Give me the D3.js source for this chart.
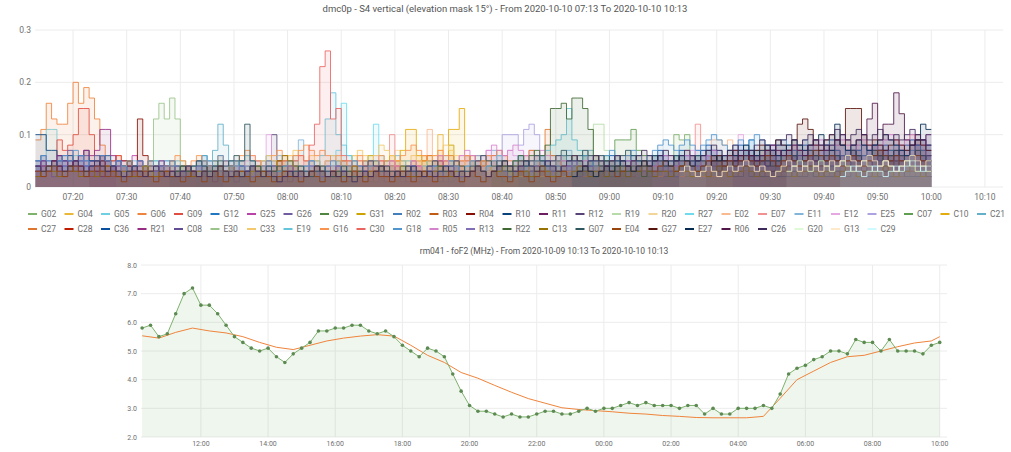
<!DOCTYPE html>
<html>
<head>
<meta charset="utf-8">
<script src="https://cdn.jsdelivr.net/npm/d3@7"></script>
<style>
  body { margin: 0; background: #fff; font-family: Roboto, "Helvetica Neue", Arial, sans-serif; }
  svg text { fill: #6f6f6f; }
</style>
</head>
<body>
<div id="chart"></div>
<script>
// ---------- S4 panel: one value per minute, in units of 0.01 ----------
// each satellite has a first minute (after 07:13) and its values
const satNames = ["G02","G04","G05","G06","G09","G12","G25","G26","G29","G31","R02","R03","R04","R10","R11","R12","R19","R20","R27","E02","E07","E11","E12","E25","C07","C10","C21",
                  "C27","C28","C36","R21","C08","E30","C33","E19","G16","C30","G18","R05","R13","R22","C13","G07","E04","G27","E27","R06","C26","G20","G13","C29"];
const satStart = [100,60,0,0,0,0,10,0,30,60,0,0,10,0,0,20,90,40,50,70,60,30,35,80,100,55,20,
                  60,0,90,0,0,15,40,45,20,45,0,60,0,85,0,25,0,125,100,130,0,140,120,150];

const sG02 = [3,4,3,2,3,4,3,5,4,3, 2,3,4,3,2,3,4,3,5,10, 9,10,6,4,3,4,3,2,3,4, 3,2,3,4,3,3,2,3,4,3, 2,3,3,4,3,2,3,4,3,2, 3,3,4,3,2,3,3,2,4,3, 2,3,3,2,3,4,3];
const sG04 = [2,3,4,3,5,4,3,4,5,4, 3,4,5,6,4,10,5,4,3,4, 3,5,4,3,4,3,2,3,4,3, 5,4,3,2,3,4,3,2,3,4, 3,2,3,4,3,2,3,3,2,3];
const sG05 = [5,6,11,11,6,5,4,6,5,4, 3,5,4,6,5,4,3,4,5,3, 4,3,5,4,3,4,3,2,4,3, 5,4,3,4,3,3,4,3,2,3, 4,3,3,2,4,3,2,3,3,4, 3,2,3,3,2,3,4,3,2,3];
const sG06 = [9,11,16,13,12,12,16,20,16,19, 17,13,8,6,5,6,4,5,4,3, 4,5,3,4,3,4,3,2,3,4, 3,3,2,3,4,3,2,3,3,2, 3,4,3,2,3];
const sG09 = [4,5,4,5,9,7,8,10,15,15, 10,6,5,4,5,6,4,3,4,5, 3,4,3,3,4,2,3,3,4,3, 2,3,3,2,3];
const sG12 = [4,5,3,4,6,5,4,3,5,4, 3,4,5,6,4,3,4,5,3,4, 3,2,4,3,5,4,3,2,3,4, 5,6,4,3,4,3,2,3,4,3, 2,3,4,3,2,3,3,4,3,2,
              3,4,3,2,3,4,5,4,3,2, 3,3,4,3,2,3,4,3,3,2, 3,4,3,2,3,3,4,5,4,3, 2,3,4,3,3,2,3,4,3,2, 3,3,4,3,2,3,4,3,2,3,
              4,3,3,2,3,4,5,4,3,3, 2,3,4,3,5,6,5,4,3,4, 5,4,6,5,4,6,7,5,6,5, 6,5,7,9,6,5,4,5,6,4, 5,4,3,5,4,3,4,5,4,3,
              4,3,5,4,3,4,3,5,4,3, 4,3,4,5,4,3,4];
const sG25 = [5,4,6,5,4,3,5,4,6,5, 4,3,4,5,3,4,3,2,4,3, 5,4,3,4,3,2,3,4,3,2, 3,4,5,4,3,2,3,4,3,3, 2,3,4,3,2,3,4,3,2,3,
              4,5,4,3,2,3,4,3,3,2, 3,4,3,2,3,5,4,3,4,5, 6,5,4,3,4,5,4,3,2,3, 4,3,3,2,3,4,3,2,3,4, 3,2,3,3,4,3,2,3,4,3,
              3,2,4,3,2,3,3,2,3,2];
const sG26 = [5,4,3,4,5,4,3,5,4,6, 5,4,3,5,4,3,2,4,3,2, 3,4,3,2,3,2,4,3,2,3, 2,3,4,3,2,3,2,1,2,3, 4,3,2,2,3,2,1,2,3,2,
              2,3,2,1,2,3,2,2,1,2, 3,2,1,2,3,4,3,2,2,3, 2,1,2,3,2,2,1,2,3,2, 3,4,5,4,3,5,4,3,2,3, 4,3,2,3,2,3,4,3,2,3,
              2,3,4,3,2,2,3,4,3,2, 3,4,3,2,4,5,4,3,4,3, 4,5,4,3,4,5,6,5,4,3, 5,4,5,7,6,5,4,5,4,3, 4,5,4,3,4,5,4,5,6,5,
              4,3,5,4,3,4,5,4,3,4, 5,4,3,4,5,6,5];
const sG29 = [3,4,3,5,4,3,4,5,4,3, 4,3,2,3,4,3,5,4,3,2, 3,4,3,2,3,4,3,3,4,3, 2,3,4,5,4,3,4,3,2,3, 4,3,2,3,4,5,4,3,4,3,
              4,5,6,5,4,5,4,3,4,3, 4,5,4,3,2,3,4,3,3,2, 3,4,3,2,3,4,3,2,3,4, 5,4,3,3,4,3,2,3,4,3, 3,2,3,4,3,2,3,3,4,3];
const sG31 = [2,3,4,3,2,3,4,5,4,3, 4,5,6,5,4,3,4,8,5,4, 3,4,3,2,3,4,3,2,3,4, 3,2,3,4,3,3,2,3,4,3, 2,3,3,4,3,2,3,2,3,2];
const sR02 = [4,3,4,5,3,4,5,4,3,4, 5,6,4,3,4,5,4,3,2,3, 4,3,2,3,4,3,2,3,2,3, 4,3,2,3,2,3,4,5,4,3, 2,3,2,3,4,3,2,3,2,1,
              2,3,2,3,2,1,2,3,2,3, 2,1,2,3,2,2,3,2,1,2, 3,2,1,2,3,2,2,1,2,3, 2,3,2,1,2,3,2,1,2,3, 2,3,2,1,2,3,2,3,4,3,
              2,3,4,3,2,3,2,3,4,3, 2,3,4,5,4,3,4,5,4,5, 6,4,5,7,5,4,5,7,6,5, 4,5,6,5,4,5,6,7,5,4, 5,6,5,4,5,7,6,5,4,6,
              5,4,5,6,5,4,5,6,7,5, 4,5,6,5,4,5,6];
const sR03 = [3,2,3,4,3,2,3,3,4,3, 2,3,4,3,2,3,3,2,3,4, 3,2,3,3,4,3,2,3,4,3, 3,2,3,4,3,2,3,3,2,3, 4,3,2,3,3,4,3,2,3,3,
              2,3,4,3,2,3,3,2,3,4, 3,3,2,3,4,3,2,3,3,2, 3,4,3,2,3,3,4,3,2,3, 3,2,3,4,3,2,3,3,4,3, 2,3,3,4,3,2,3,3,2,3,
              4,3,2,3,3,4,3,2,3,4, 3,2,3,3,4,3,2,3,3,2, 3,4,3,2,3,3,2,3,4,3, 2,3,3,4,3,2,3,3,2,3, 4,3,2,3,3,4,3,2,3,3,
              2,3,4,3,2,3,3,2,3,4, 3,2,3,3,4,3,2];
const sR04 = [4,3,5,4,3,4,5,4,3,13, 6,4,3,4,3,5,4,3,4,3, 2,3,4,3,2,3,4,3,2,3, 4,3,2,3,3,2,3,4,3,2];
const sR10 = [10,10,7,7,6,5,6,5,6,7, 5,4,6,5,4,3,4,5,4,3, 4,3,3,4,3,2,3,4,3,3, 2,3,4,3,2,3,3,2,3,3, 2,2,3,2,3,2,3,2,2,3,
              2,2,3,3,2,2,3,2,2,3, 2,2,2,3,2,2,3,2,2,2, 3,2,2,2,3,2,2,3,2,2, 2,3,2,2,3,2,2,2,3,2, 2,3,2,2,2,3,2,2,2,3,
              2,3,2,2,2,3,2,2,2,3, 2,3,2,2,3,2,2,2,3,2, 2,3,2,2,2,3,2,2,3,2, 2,2,3,2,3,2,2,3,2,2, 2,3,2,2,3,2,3,2,2,3,
              2,2,3,2,2,2,3,2,3,2, 2,3,2,2,2,3,2];
const sR11 = [3,4,3,2,4,3,5,4,3,2, 4,3,2,3,4,3,2,2,3,3, 2,2,3,4,3,2,3,2,3,2, 2,3,2,1,2,3,4,3,2,3, 2,3,4,3,2,3,2,1,2,3,
              2,3,2,3,4,3,2,3,2,3, 4,3,2,3,2,1,2,3,2,3, 2,3,4,3,2,3,2,3,2,1, 2,3,4,3,2,3,4,3,2,3, 4,3,2,3,4,5,4,3,4,3,
              2,3,4,3,2,3,4,3,2,3, 4,5,4,3,4,3,4,5,4,3, 4,5,4,5,6,5,4,5,4,5, 6,5,4,5,4,5,6,7,5,4, 5,6,5,4,6,5,4,5,6,7,
              6,5,6,7,5,6,8,7,5,6, 7,6,5,6,9,7,6];
const sR12 = [3,2,3,4,3,2,3,4,3,2, 3,4,5,4,3,2,3,4,5,4, 3,5,4,5,10,5,4,3,4,3, 2,3,4,3,2,3,2,3,4,3, 2,3,2,1,2,3,2,3,2,1,
              2,3,2,3,2,1,2,3,4,3, 2,3,2,3,4,3,2,3,2,3, 4,3,2,3,2,3,4,5,4,3, 4,3,2,3,4,3,4,5,4,3, 4,3,5,4,3,4,5,4,3,4,
              5,4,3,4,5,6,5,4,5,4, 5,4,5,6,5,4,5,6,5,4, 6,7,6,5,6,5,4,6,5,4, 5,6,7,6,5,4,5,6,7,6, 5,4,5,6,5,4,6];
const sR19 = [3,4,5,4,3,4,5,4,6,5, 4,5,6,7,12,12,7,5,4,3, 4,5,4,3,4,3,2,3,4,3];
const sR20 = [3,4,5,4,3,4,5,6,5,4, 5,4,3,4,5,4,3,4,5,6, 5,4,6,5,4,5,6,7,5,4, 5,6,5,4,5,4,3,4,5,4, 3,4,3,2,3,4,3,2,3,4, 3,2,3,4,3,2,3,2,3,2];
const sR27 = [3,4,5,4,3,6,7,16,6,5, 4,5,6,12,6,5,4,5,4,3, 4,5,4,3,4,3,2,3,4,3];
const sE02 = [4,5,6,11,5,4,5,4,3,4, 3,4,5,4,3,2,3,4,3,4, 5,4,3,4,3,2,3,4,5,4, 3,4,6,5,4,3,4,5,4,3, 4,3,2,3,4,5,4,3,4,5,
              5,4,3,4,5,4,9,9,8,9, 5,4,3,4,5,4,3,4,5,4, 3,4,5,4,3,4,5,4,3,4, 5,4,3,4,5,4,3,4,5,6, 5,6,7,10,7,6,5];
const sE07 = [3,4,5,4,3,5,10,5,4,3, 4,5,4,3,4,5,4,3,4,5, 4,3,4,5,6,5,4,5,4,3, 4,5,4,3,4,5,6,5,4,3, 4,5,4,3,4,5,4,3,4,5,
              6,5,4,5,6,5,4,5,6,5, 6,7,6,12,7,6,5,4,5,4];
const sE11 = [3,4,5,4,3,4,5,4,3,4, 5,4,3,4,5,6,5,4,6,9, 5,4,3,4,5,4,3,4,5,4, 3,4,5,4,3,4,5,6,5,4, 5,4,3,4,5,4,6,5,4,5,
              6,5,4,5,6,7,6,5,4,5, 6,5,4,5,6,5,4,5,6,7, 6,5,6,7,6,5,4,5,6,5];
const sE12 = [4,5,4,3,5,6,5,4,10,5, 4,5,4,3,4,5,4,3,4,5, 4,3,4,5,4,3,4,5,6,5, 4,5,4,3,4,5,4,3,4,5, 6,5,4,5,6,5,4,5,6,7,
              6,5,6,7,6,5,6,7,6,5, 4,5,6,5,4,5,6,5,4,5, 6,5,4,5,6,5,4,5,6,5, 4,5,6,5,4,5,6,7,6,5, 6,7,6,5,6,7,10,6,5,4];
const sE25 = [4,5,6,5,4,5,6,10,10,10, 8,11,12,10,6,5,4,5,4,3, 4,5,4,3,4,5,4,3,4,3, 4,3,2,3,4,3,2,3,4,3];
const sC07 = [4,5,6,5,4,5,6,5,9,9, 9,11,7,6,5,6,5,4,5,6, 5,4,5,6,5,4,5,6,5,4, 5,6,5,4,5,6,7,6,5,6, 5,6,7,6,5,6,5,4,5,6,
              5,6,7,6,5,6,7,6,5,6, 5,4,5,6,5,4,5];
const sC10 = [3,4,5,4,3,4,5,6,5,4, 5,6,5,7,11,11,6,5,4,5, 6,5,11,11,15,6,5,4,5,4, 3,4,5,4,3,4,3,2,3,4];
const sC21 = [3,4,5,4,3,4,5,4,3,4, 5,6,5,7,12,8,5,4,5,6, 5,4,5,6,5,4,3,4,5,4, 3,4,5,4,3,4,5,4,3,4, 3,2,3,4,3,2,3,4,3,2,
              3,4,3,2,3,2,3,4,3,2];
const sC27 = [3,4,5,4,3,4,5,4,3,4, 5,4,5,6,5,4,5,6,5,4, 5,6,5,4,5,6,7,6,5,4, 5,6,7,6,5,11,6,5,6,5, 6,5,4,5,6,5,4,5,6,5,
              4,5,6,5,4,5,4,3,4,5, 4,5,6,5,4,5,6,5,4,5, 6,5,4,5,6,7,6,5,4,5, 6,5,4,5,6,5,4,5,6,5, 4,5,6,5,4,5,6,7,6,5,
              4,5,6,5,4,5,4];
const sC28 = [3,4,3,5,4,3,4,5,4,3, 4,5,6,5,4,3,4,5,4,3, 4,3,2,3,4,3,2,3,4,3, 2,3,4,3,2,3,4,3,2,3, 4,3,2,3,4,5,4,3,4,3,
              2,3,4,3,2,3,4,3,2,3, 3,2,3,4,3,2,3,3,2,3, 2,3,2,2,3,2,2,3,2,2];
const sC36 = [3,4,3,4,5,4,3,4,3,4, 5,4,3,4,5,4,5,6,5,4, 5,6,5,4,5,6,7,6,5,6, 7,6,5,6,7,8,7,6,5,6, 7,8,7,6,7,6,7,8,9,8,
              7,6,7,8,7,6,7,8,9,9, 8,7,6,7,8,7,6,7,8,7, 6,7,8,9,8,9,8];
const sR21 = [4,5,4,5,6,5,4,5,6,7, 6,7,11,11,6,5,4,5,4,3, 4,5,4,3,4,3,2,3,4,3, 4,5,4,3,4,5,4,3,2,3, 4,3,2,3,4,3,2,3,4,3,
              4,5,4,3,4,3,4,5,4,3, 2,3,4,3,2,3,4,3,2,3, 4,3,2,3,4,5,4,3,4,3, 2,3,4,3,2,3,4,3,2,3, 3,2,3,4,3,2,3,2,3,2];
const sC08 = [5,6,5,4,5,6,7,5,6,5, 4,5,6,5,4,5,4,3,4,5, 4,3,4,5,4,3,4,3,2,3, 4,3,2,3,4,3,2,3,2,3, 4,3,2,3,2,3,4,3,2,3,
              2,3,4,3,2,3,2,1,2,3, 2,3,2,3,4,3,2,3,2,3, 4,3,2,3,4,3,2,3,4,3, 2,3,4,3,2,3,4,3,2,3, 4,3,4,5,4,3,4,3,4,5,
              4,3,4,5,4,3,4,5,4,3, 4,5,4,3,4,5,6,5,4,5, 4,5,6,5,4,5,6,5,4,5, 6,5,4,5,6,5,4,5,6,7, 6,5,6,7,6,5,6,7,6,5,
              6,7,6,5,6,7,8,7,6,5, 6,7,6,5,8,9,7];
const sE30 = [3,4,5,4,3,4,5,13,16,13, 17,13,5,4,3,4,5,4,3,4, 3,4,3,2,3,4,3,2,3,2];
const sC33 = [3,4,5,6,5,4,5,6,7,6, 5,6,5,4,5,6,5,4,5,6, 7,6,5,6,8,7,6,5,4,5, 6,5,4,5,6,7,8,7,6,5, 4,5,4,3,4,5,4,3,4,3,
              2,3,4,3,2,3,2,3,2,2];
const sE19 = [3,4,5,4,3,4,5,4,6,13, 18,10,8,6,5,4,5,4,3,4, 5,4,3,4,5,4,3,4,5,4, 3,4,5,4,3,4,5,4,3,4, 5,6,5,4,5,6,5,4,5,6,
              7,8,9,10,15,9,7,6,5,4];
const sG16 = [4,5,4,3,4,5,6,5,4,5, 6,5,4,5,6,5,4,5,6,7, 6,5,4,5,6,7,6,5,6,7, 8,7,6,7,6,5,6,5,4,5, 6,5,4,5,6,5,4,5,6,7,
              8,7,6,5,6,7,6,5,4,5, 6,5,4,5,6,5,4,3,4,5, 4,3,4,5,4,3,4,5,4,3, 4,3,2,3,4,3,2,3,4,3, 2,3,4,3,2,3,2,3,4,3,
              2,3,2,3,2,3,2,2,3,2];
const sC30 = [4,5,4,5,6,5,8,12,23,26, 13,15,6,5,4,5,4,3,4,5, 4,3,4,3,2,3,4,3,2,3];
const sG18 = [5,6,5,4,5,6,5,7,6,5, 4,5,6,5,4,5,4,3,4,5, 4,5,4,3,4,5,4,3,4,3, 4,5,4,5,6,5,4,5,4,3, 4,3,4,5,4,3,4,5,4,3,
              4,5,4,3,4,5,4,3,4,5, 4,3,4,5,4,3,2,3,4,3, 4,3,2,3,4,3,4,5,4,3, 4,5,4,3,4,5,4,3,4,5, 6,5,4,5,6,5,4,5,6,5,
              4,5,6,5,4,5,6,7,6,5, 6,7,6,5,6,7,8,9,8,7, 8,9,8,7,8,9,10,9,8,7, 8,9,8,9,10,9,8,7,8,9, 8,7,8,9,8,7,6,7,8,7,
              6,7,8,7,6,7,8,7,6,7, 8,7,6,7,8,7,8];
const sR05 = [3,4,5,4,3,4,5,4,3,4, 5,4,3,4,5,6,5,4,5,6, 7,6,5,6,7,8,7,6,7,8, 7,6,5,6,7,6,5,6,5,4, 5,4,5,6,5,4,5,4,3,4,
              5,4,3,4,5,4,5,6,5,4, 5,6,5,4,5,6,7,6,5,6, 7,6,5,6,5,6,7,8,7,6, 7,8,7,6,7,8,9,8,7,8, 9,8,7,8,9,8,7,8,9,10,
              9,8,9,10,9,8,10];
const sR13 = [3,4,3,2,3,4,3,4,5,4, 3,4,3,2,3,4,3,2,3,4, 3,2,3,4,3,2,3,3,2,3, 4,3,2,3,4,3,2,3,4,3, 2,3,3,4,3,2,3,4,3,2,
              3,4,3,2,3,3,4,3,2,3, 4,3,2,3,4,3,2,3,3,4, 3,2,3,4,3,2,3,4,3,2, 3,3,4,3,2,3,4,3,2,3, 4,3,3,2,3,4,3,2,3,4,
              3,2,3,4,3,3,2,3,4,3, 2,3,4,3,2,3,3,4,3,2, 3,4,5,4,3,4,5,4,3,4, 5,4,5,6,5,4,5,6,5,4, 5,6,5,4,5,6,7,6,5,6,
              5,6,7,6,5,6,5,6,7,6, 5,6,7,6,5,6,5];
const sR22 = [3,4,5,4,5,6,5,6,7,6, 8,15,15,16,13,17,17,15,11,6, 4,5,4,3,4,3,4,3,2,3];
const sC13 = [2,3,4,3,2,3,4,3,2,3, 3,2,3,4,3,2,3,3,2,3, 4,3,2,3,3,2,3,4,3,2, 3,3,2,3,4,3,2,3,3,2, 3,4,3,2,3,5,6,5,4,3,
              2,3,4,3,2,3,3,2,3,4, 3,2,3,3,4,3,2,3,4,3, 2,3,3,2,3,4,3,2,3,3, 2,3,4,3,2,3,3,4,3,2, 3,3,2,3,4,3,2,3,3,2,
              3,4,3,2,3,3,2,3,4,3, 2,3,3,4,3,2,3,3,2,3, 4,3,2,3,3,2,3,4,3,2, 3,3,4,3,2,3,3,2,3,4, 3,2,3,3,4,3,2,3,3,2,
              3,4,3,2,3,3,2,3,4,3, 2,3,3,4,3,2,3];
const sG07 = [2,3,4,3,4,5,4,3,4,5, 4,5,6,5,12,5,4,3,4,3, 4,3,2,3,4,3,2,3,4,3, 2,3,4,3,2,3,4,5,4,3, 4,3,2,3,4,3,2,3,4,5,
              4,3,4,5,4,3,4,5,6,5, 4,5,4,3,4,5,4,5,6,5, 4,5,6,7,6,5,6,7,6,5, 6,5,4,5,6,7,6,5,4,5, 6,5,4,5,6,5,4,5,6,5,
              4,5,6,5,4,5,6,7,6,5, 6,5,4,5,6,7,6,5,6,7, 6,5,6,7,6,5,6,7,6,5, 6,7,6,5,6,7,6,5,6,7,6,5];
const sE04 = [3,2,3,4,3,2,3,4,3,2, 3,4,3,2,3,2,1,2,3,2, 3,2,1,2,3,2,2,1,2,3, 2,1,2,3,2,1,2,2,3,2, 1,2,3,2,1,2,3,2,2,1,
              2,3,2,1,2,3,2,1,2,3, 2,1,2,3,2,2,1,2,3,2, 1,2,3,2,1,2,2,3,2,1, 2,3,2,1,2,3,2,2,1,2, 3,2,1,2,3,2,1,2,3,2,
              2,3,4,3,2,3,4,3,2,3, 4,3,4,5,4,3,4,5,4,3, 4,5,4,3,4,5,6,5,4,5, 4,5,6,5,4,5,6,5,4,5, 6,5,4,5,6,7,6,5,6,5,
              4,5,6,5,4,5,6,7,6,5, 6,5,4,5,6,5,4];
const sG27 = [4,5,6,5,6,7,6,5,6,7, 8,7,6,9,8,7,9,12,13,11, 8,7,9,10,9,8,15,15,15,10, 8,9,8,7,8,9,8,7,8,9,8,7];
const sE27 = [2,3,4,3,2,3,4,3,4,5, 4,3,4,5,4,5,6,5,4,5, 6,5,4,5,6,7,6,5,6,7, 6,7,8,7,6,7,8,7,6,7, 8,9,8,7,8,9,10,8,7,12,
              8,7,8,9,8,7,8,9,10,9, 8,7,6,8,9,12,11];
const sR06 = [5,6,7,6,5,6,7,8,7,6, 7,8,7,6,8,9,8,7,8,9, 10,9,8,9,10,13,16,9,12,12, 18,14,9,8,10,9,8];
const sC26 = [4,3,4,5,4,3,4,5,4,3, 4,5,4,3,4,3,2,3,4,3, 2,3,4,3,2,3,2,3,4,3, 2,3,2,3,4,3,2,3,2,3, 4,3,2,3,2,1,2,3,2,3,
              2,3,4,3,2,3,2,3,2,1, 2,3,2,3,4,3,2,3,2,3, 4,3,2,3,2,3,4,3,2,3, 2,3,4,3,2,3,4,5,4,3, 4,5,4,3,4,5,4,3,4,5,
              6,5,4,5,6,5,4,5,6,5, 4,5,6,7,6,5,6,7,6,5, 6,7,6,5,6,7,8,7,6,7, 8,7,6,7,8,9,8,7,8,9, 10,9,8,9,10,9,8,9,10,11,
              10,9,10,11,10,9,10,11,10,9, 10,9,10,11,10,9,10];
const sG20 = [3,4,5,4,3,4,5,4,3,4, 5,4,3,4,5,4,3,4,5,4, 3,4,5,4,3,4,3];
const sG13 = [3,4,3,2,3,4,3,2,3,4, 3,4,5,4,3,4,3,2,3,4, 5,4,3,4,5,4,3,4,5,4, 5,6,5,4,5,6,5,4,5,4, 3,4,5,6,5,4,5];
const sC29 = [2,3,4,3,2,3,4,3,2,3, 4,3,4,5,4,3,4];

const satValues = [sG02,sG04,sG05,sG06,sG09,sG12,sG25,sG26,sG29,sG31,sR02,sR03,sR04,sR10,sR11,sR12,sR19,sR20,sR27,sE02,sE07,sE11,sE12,sE25,sC07,sC10,sC21,
                   sC27,sC28,sC36,sR21,sC08,sE30,sC33,sE19,sG16,sC30,sG18,sR05,sR13,sR22,sC13,sG07,sE04,sG27,sE27,sR06,sC26,sG20,sG13,sC29];

const s4Ticks = [0, 0.1, 0.2, 0.3];

// ---------- foF2 panel: one value every 15 min from 2020-10-09 10:15 ----------
const foF2 = [5.8,5.9,5.5,5.6,6.3,7.0,7.2,6.6,6.6,6.3, 5.9,5.5,5.3,5.1,5.0,5.1,4.8,4.6,4.9,5.1,
              5.3,5.7,5.7,5.8,5.8,5.9,5.9,5.7,5.6,5.7, 5.5,5.2,5.0,4.8,5.1,5.0,4.8,4.2,3.6,3.1,
              2.9,2.9,2.8,2.7,2.8,2.7,2.7,2.8,2.9,2.9, 2.8,2.8,2.9,3.0,2.9,3.0,3.0,3.1,3.2,3.1,
              3.2,3.1,3.1,3.1,3.0,3.1,3.1,2.8,3.0,2.8, 2.8,3.0,3.0,3.0,3.1,3.0,3.5,4.2,4.4,4.5,
              4.7,4.8,5.0,5.0,4.9,5.4,5.3,5.3,5.0,5.4, 5.0,5.0,5.0,4.9,5.2,5.3];
// reference curve, one value every 30 min from 10:15, last one at 10:00
const foF2Ref = [5.53,5.45,5.65,5.8,5.7,5.63,5.5,5.3,5.13,5.05, 5.2,5.35,5.45,5.52,5.57,5.52,5.2,4.85,4.6,4.25,
                 4.05,3.8,3.56,3.34,3.18,3.02,2.96,2.92,2.88,2.83, 2.8,2.75,2.72,2.68,2.67,2.67,2.67,2.72,3.35,4.0,
                 4.3,4.6,4.8,4.85,5.0,5.15,5.28,5.35,5.5];
const foF2Ticks = [2, 3, 4, 5, 6, 7, 8];

const palette = ["#7EB26D","#EAB839","#6ED0E0","#EF843C","#E24D42","#1F78C1","#BA43A9","#705DA0","#508642","#CCA300",
  "#447EBC","#C15C17","#890F02","#0A437C","#6D1F62","#584477","#B7DBAB","#F4D598","#70DBED","#F9BA8F",
  "#F29191","#82B5D8","#E5A8E2","#AEA2E0","#629E51","#E5AC0E","#64B0C8","#E0752D","#BF1B00","#0A50A1",
  "#962D82","#614D93","#9AC48A","#F2C96D","#65C5DB","#F9934E","#EA6460","#5195CE","#D683CE","#806EB7",
  "#3F6833","#967302","#2F575E","#99440A","#58140C","#052B51","#511749","#3F2B5B","#E0F9D7","#FCEACA","#CFFAFF"];

const width = 1011, height = 452;
const svg = d3.select("#chart").append("svg")
    .attr("width", width)
    .attr("height", height);

const gridColor = "#ececec";

// ================= top panel =================
const t0 = Date.UTC(2020, 9, 10, 7, 13);
const nMinutes = 167; // data stops at 10:00
const x1 = d3.scaleUtc()
    .domain([new Date(t0), new Date(Date.UTC(2020, 9, 10, 10, 13))])
    .range([35.5, 1001]);
const y1 = d3.scaleLinear().domain([0, 0.3]).range([187, 30]);

svg.append("text")
    .attr("x", 505).attr("y", 12)
    .attr("text-anchor", "middle")
    .style("font-size", "9.5px").style("fill", "#555")
    .text("dmc0p - S4 vertical (elevation mask 15°) - From 2020-10-10 07:13 To 2020-10-10 10:13");

const topPanel = svg.append("g");
const xTicks1 = x1.ticks(d3.utcMinute.every(10));
topPanel.selectAll(".vg").data(xTicks1).enter().append("line")
    .attr("x1", d => x1(d)).attr("x2", d => x1(d))
    .attr("y1", y1(0.3)).attr("y2", y1(0))
    .style("stroke", gridColor);
topPanel.selectAll(".hg").data(s4Ticks).enter().append("line")
    .attr("x1", 35).attr("x2", 1003)
    .attr("y1", d => y1(d)).attr("y2", d => y1(d))
    .style("stroke", gridColor);
topPanel.selectAll(".xl").data(xTicks1).enter().append("text")
    .attr("x", d => x1(d)).attr("y", 200)
    .attr("text-anchor", "middle")
    .style("font-size", "8.5px")
    .text(d3.utcFormat("%H:%M"));
topPanel.selectAll(".yl").data(s4Ticks).enter().append("text")
    .attr("x", 31).attr("y", d => y1(d) + 3)
    .attr("text-anchor", "end")
    .style("font-size", "8.5px")
    .text(d => d === 0 ? "0" : d3.format(".1f")(d));

const stepArea = d3.area().curve(d3.curveStepAfter)
    .x(d => x1(d.t)).y0(y1(0)).y1(d => y1(d.v));
const stepLine = d3.line().curve(d3.curveStepAfter)
    .x(d => x1(d.t)).y(d => y1(d.v));

satValues.forEach((vals, i) => {
    const pts = [];
    vals.forEach((v, k) => {
        const m = satStart[i] + k;
        if (m < nMinutes) pts.push({ t: new Date(t0 + m * 60000), v: v / 100 });
    });
    // close the last one-minute step
    const last = pts[pts.length - 1];
    pts.push({ t: new Date(+last.t + 60000), v: last.v });
    topPanel.append("path").attr("d", stepArea(pts))
        .style("fill", palette[i]).style("fill-opacity", 0.1).style("stroke", "none");
    topPanel.append("path").attr("d", stepLine(pts))
        .style("fill", "none").style("stroke", palette[i])
        .style("stroke-width", 1).style("stroke-opacity", 0.85);
});

// legend
const legend = svg.append("g");
satNames.forEach((name, i) => {
    const row = i < 27 ? 0 : 1;
    const col = row === 0 ? i : i - 27;
    const lx = 28 + col * 36.5, ly = 214 + row * 15;
    legend.append("line")
        .attr("x1", lx).attr("x2", lx + 9).attr("y1", ly).attr("y2", ly)
        .style("stroke", palette[i]).style("stroke-width", 2);
    legend.append("text")
        .attr("x", lx + 13).attr("y", ly + 3)
        .style("font-size", "8.5px")
        .text(name);
});

// ================= bottom panel =================
const b0 = Date.UTC(2020, 9, 9, 10, 13);
const x2 = d3.scaleUtc()
    .domain([new Date(b0), new Date(Date.UTC(2020, 9, 10, 10, 13))])
    .range([141, 947]);
const y2 = d3.scaleLinear().domain([2, 8]).range([437, 265]);

svg.append("text")
    .attr("x", 544).attr("y", 254)
    .attr("text-anchor", "middle")
    .style("font-size", "8.5px").style("fill", "#555")
    .text("rm041 - foF2 (MHz) - From 2020-10-09 10:13 To 2020-10-10 10:13");

const botPanel = svg.append("g");
const xTicks2 = x2.ticks(d3.utcHour.every(2));
botPanel.selectAll(".vg").data(xTicks2).enter().append("line")
    .attr("x1", d => x2(d)).attr("x2", d => x2(d))
    .attr("y1", y2(8)).attr("y2", y2(2))
    .style("stroke", gridColor);
botPanel.selectAll(".hg").data(foF2Ticks).enter().append("line")
    .attr("x1", 141).attr("x2", 947)
    .attr("y1", d => y2(d)).attr("y2", d => y2(d))
    .style("stroke", gridColor);
botPanel.selectAll(".xl").data(xTicks2).enter().append("text")
    .attr("x", d => x2(d)).attr("y", 446)
    .attr("text-anchor", "middle")
    .style("font-size", "7px")
    .text(d3.utcFormat("%H:%M"));
botPanel.selectAll(".yl").data(foF2Ticks).enter().append("text")
    .attr("x", 137).attr("y", d => y2(d) + 2.5)
    .attr("text-anchor", "end")
    .style("font-size", "7px")
    .text(d3.format(".1f"));

const q0 = Date.UTC(2020, 9, 9, 10, 15);
const foPts = foF2.map((v, i) => ({ t: new Date(q0 + i * 15 * 60000), v }));
const refPts = foF2Ref.map((v, i) => ({
    t: new Date(i === foF2Ref.length - 1 ? Date.UTC(2020, 9, 10, 10, 0) : q0 + i * 30 * 60000), v }));

botPanel.append("path")
    .attr("d", d3.area().x(d => x2(d.t)).y0(y2(2)).y1(d => y2(d.v))(foPts))
    .style("fill", "#7EB26D").style("fill-opacity", 0.12);
botPanel.append("path")
    .attr("d", d3.line().x(d => x2(d.t)).y(d => y2(d.v))(refPts))
    .style("fill", "none").style("stroke", "#EF843C").style("stroke-width", 1);
botPanel.append("path")
    .attr("d", d3.line().x(d => x2(d.t)).y(d => y2(d.v))(foPts))
    .style("fill", "none").style("stroke", "#7EB26D").style("stroke-width", 1);
botPanel.selectAll(".pt").data(foPts).enter().append("circle")
    .attr("cx", d => x2(d.t)).attr("cy", d => y2(d.v)).attr("r", 1.8)
    .style("fill", "#5d8a52");
</script>
</body>
</html>
